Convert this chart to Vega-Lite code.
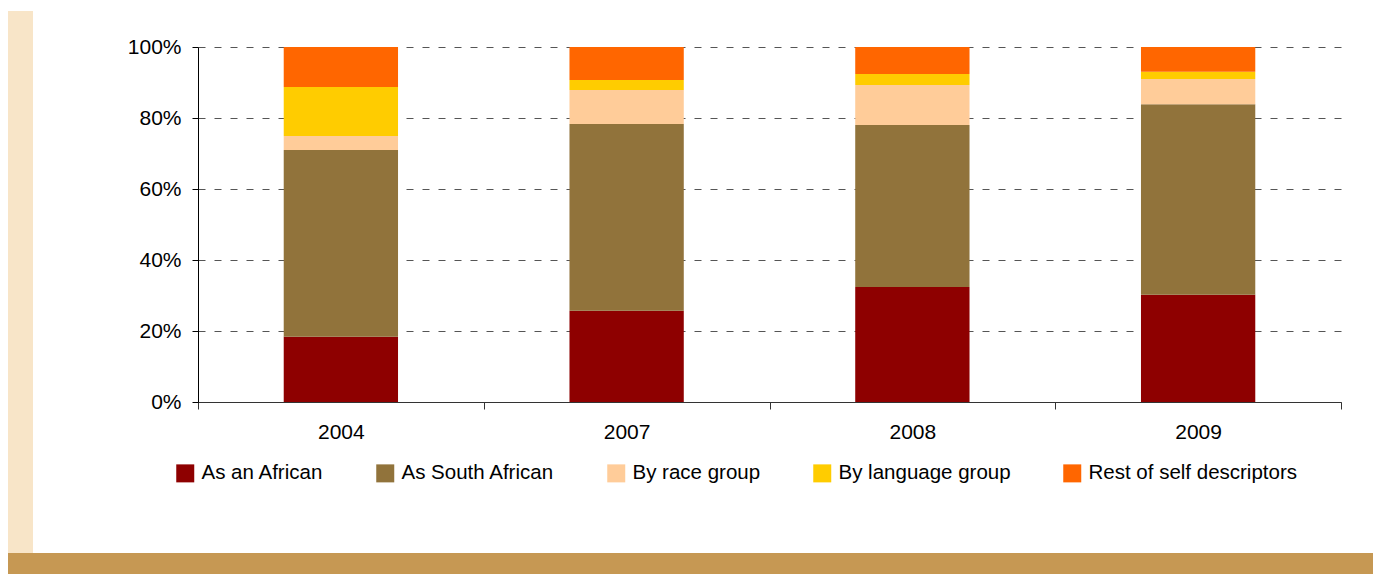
{
  "$schema": "https://vega.github.io/schema/vega-lite/v6.json",
  "background": "white",
  "padding": {"left": 8, "top": 11, "right": 0, "bottom": 0},
  "config": {"font": "Liberation Sans", "view": {"stroke": null}},
  "spacing": 0,
  "vconcat": [
    {
      "spacing": 94,
      "hconcat": [
        {
          "width": 25,
          "height": 542,
          "data": {"values": []},
          "mark": "point",
          "view": {"fill": "#f8e5c8", "stroke": null}
        },
        {
          "spacing": 0,
          "vconcat": [
            {
              "width": 1,
              "height": 25,
              "data": {"values": []},
              "mark": "point"
            },
            {
              "width": 1143,
              "height": 355,
              "data": {
                "values": [
                  {"year": "2004", "series": "As an African", "value": 18.4},
                  {"year": "2004", "series": "As South African", "value": 52.6},
                  {"year": "2004", "series": "By race group", "value": 3.9},
                  {"year": "2004", "series": "By language group", "value": 13.8},
                  {"year": "2004", "series": "Rest of self descriptors", "value": 11.3},
                  {"year": "2007", "series": "As an African", "value": 25.7},
                  {"year": "2007", "series": "As South African", "value": 52.6},
                  {"year": "2007", "series": "By race group", "value": 9.6},
                  {"year": "2007", "series": "By language group", "value": 2.8},
                  {"year": "2007", "series": "Rest of self descriptors", "value": 9.3},
                  {"year": "2008", "series": "As an African", "value": 32.4},
                  {"year": "2008", "series": "As South African", "value": 45.6},
                  {"year": "2008", "series": "By race group", "value": 11.3},
                  {"year": "2008", "series": "By language group", "value": 3.1},
                  {"year": "2008", "series": "Rest of self descriptors", "value": 7.6},
                  {"year": "2009", "series": "As an African", "value": 30.2},
                  {"year": "2009", "series": "As South African", "value": 53.7},
                  {"year": "2009", "series": "By race group", "value": 7.1},
                  {"year": "2009", "series": "By language group", "value": 2.0},
                  {"year": "2009", "series": "Rest of self descriptors", "value": 7.0}
                ]
              },
              "transform": [
                {"calculate": "indexof(['As an African', 'As South African', 'By race group', 'By language group', 'Rest of self descriptors'], datum.series)", "as": "k"}
              ],
              "mark": {"type": "bar", "width": {"band": 0.4}},
              "encoding": {
                "x": {
                  "field": "year",
                  "type": "nominal",
                  "scale": {"paddingInner": 0, "paddingOuter": 0},
                  "axis": {
                    "title": null,
                    "labelAngle": 0,
                    "tickBand": "extent",
                    "grid": false,
                    "domainColor": "#333333",
                    "tickColor": "#333333",
                    "tickSize": 7,
                    "labelPadding": 12,
                    "labelFontSize": 21,
                    "labelColor": "#000000"
                  }
                },
                "y": {
                  "field": "value",
                  "type": "quantitative",
                  "stack": "zero",
                  "scale": {"domain": [0, 100]},
                  "axis": {
                    "title": null,
                    "values": [0, 20, 40, 60, 80, 100],
                    "labelExpr": "datum.value + '%'",
                    "grid": true,
                    "gridDash": [7, 9],
                    "gridColor": "#555555",
                    "tickColor": "#000000",
                    "domainColor": "#000000",
                    "tickSize": 6,
                    "labelPadding": 11,
                    "labelFontSize": 21,
                    "labelColor": "#000000"
                  }
                },
                "order": {"field": "k", "type": "quantitative", "sort": "ascending"},
                "color": {
                  "field": "series",
                  "type": "nominal",
                  "scale": {
                    "domain": ["As an African", "As South African", "By race group", "By language group", "Rest of self descriptors"],
                    "range": ["#8e0000", "#91733b", "#ffcc99", "#ffcc00", "#ff6600"]
                  },
                  "legend": {
                    "title": null,
                    "orient": "none",
                    "legendX": 167,
                    "legendY": 452,
                    "direction": "horizontal",
                    "columns": 5,
                    "symbolType": "square",
                    "symbolSize": 324,
                    "symbolStrokeWidth": 0,
                    "symbolOpacity": 1,
                    "labelFontSize": 20.5,
                    "labelColor": "#000000",
                    "labelOffset": 6,
                    "columnPadding": 51,
                    "labelLimit": 400,
                    "padding": 0
                  }
                }
              }
            }
          ]
        }
      ]
    },
    {
      "width": 1365,
      "height": 21,
      "data": {"values": []},
      "mark": "point",
      "view": {"fill": "#c69853", "stroke": null}
    }
  ]
}
